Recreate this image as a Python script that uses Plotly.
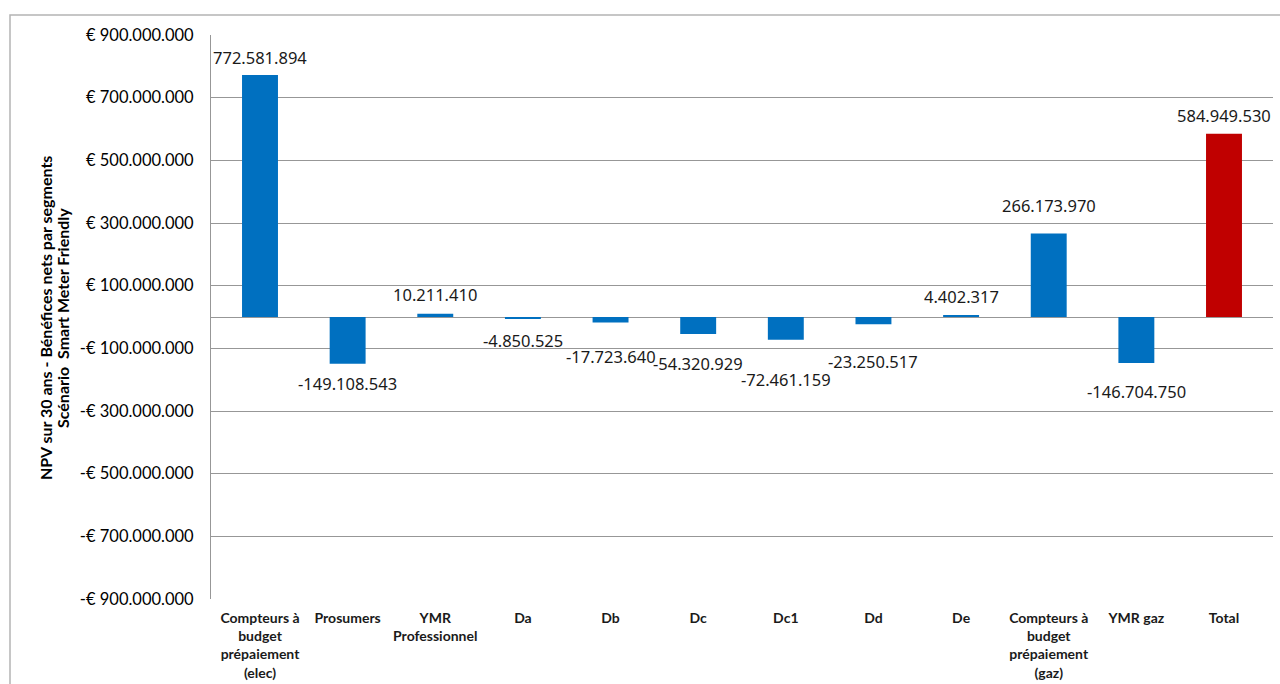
import plotly.graph_objects as go

# Net present value over 30 years, per segment (EUR)
categories = ["Compteurs à budget prépaiement (elec)", "Prosumers", "YMR Professionnel",
              "Da", "Db", "Dc", "Dc1", "Dd", "De",
              "Compteurs à budget prépaiement (gaz)", "YMR gaz", "Total"]
category_labels = ["Compteurs à<br>budget<br>prépaiement<br>(elec)", "Prosumers",
                   "YMR<br>Professionnel", "Da", "Db", "Dc", "Dc1", "Dd", "De",
                   "Compteurs à<br>budget<br>prépaiement<br>(gaz)", "YMR gaz", "Total"]
npv_values = [772581894, -149108543, 10211410, -4850525, -17723640, -54320929,
              -72461159, -23250517, 4402317, 266173970, -146704750, 584949530]
tick_values = [-900000000, -700000000, -500000000, -300000000, -100000000,
               100000000, 300000000, 500000000, 700000000, 900000000]
title_lines = ["NPV sur 30 ans - Bénéfices nets par segments",
               "Scénario  Smart Meter Friendly"]

# vertical offset (px) of each value label from its bar end
label_shift = [17.5, -20, 19, -21.5, -33.5, -29, -40, -37.5, 19.5, 28.6, -28.7, 18.7]

BLUE = "#0070C0"
RED = "#C00000"
GRID = "#979797"


def dotted(n):
    return f"{n:,}".replace(",", ".")


def euro(n):
    return ("-€ " if n < 0 else "€ ") + dotted(abs(n))


bar_colors = [RED if c == "Total" else BLUE for c in categories]

fig = go.Figure()
fig.add_trace(go.Bar(
    x=categories, y=npv_values,
    marker=dict(color=bar_colors, line=dict(width=0)),
    hoverinfo="x+y",
))

for cat, val, dy in zip(categories, npv_values, label_shift):
    fig.add_annotation(
        x=cat, y=val, xref="x", yref="y",
        text=dotted(val), showarrow=False,
        xanchor="center", yanchor="middle", yshift=dy,
        font=dict(family="Noto Sans", size=16.5, color="#1a1a1a"),
    )

# vertical axis title, one rotated annotation per line
for line_text, px in zip(title_lines, [45, 62]):
    fig.add_annotation(
        xref="paper", yref="paper", x=(px - 211) / 1062, y=(599 - 318) / 564,
        text=f"<b>{line_text}</b>",
        showarrow=False, textangle=-90, xanchor="center", yanchor="middle",
        font=dict(family="Lato", size=16, color="#000000"),
    )

# outer chart frame
fig.add_shape(
    type="rect", xref="paper", yref="paper",
    x0=(10 - 211) / 1062, x1=(1290 - 211) / 1062,
    y0=(599 - 700) / 564, y1=(599 - 15) / 564,
    line=dict(color="#b4b4b4", width=1.5), fillcolor="rgba(0,0,0,0)", layer="below",
)

fig.update_layout(
    width=1280, height=684,
    margin=dict(l=211, r=7, t=35, b=85, autoexpand=False),
    paper_bgcolor="white", plot_bgcolor="white",
    bargap=0.59, showlegend=False,
    font=dict(family="Lato", color="#000000"),
)
fig.update_xaxes(
    type="category", automargin=False,
    tickmode="array", tickvals=categories, ticktext=category_labels,
    tickfont=dict(family="Lato", size=14, color="#1a1a1a", weight="bold"),
    showgrid=False, showline=False, ticks="", zeroline=False,
    ticklabelstandoff=9,
)
fig.update_yaxes(
    range=[-900000000, 900000000], automargin=False,
    tickmode="array", tickvals=tick_values, ticktext=[euro(v) for v in tick_values],
    tickfont=dict(family="Lato", size=16.5, color="#000000"),
    showgrid=True, gridcolor=GRID, gridwidth=1,
    zeroline=True, zerolinecolor=GRID, zerolinewidth=1,
    showline=True, linecolor=GRID, linewidth=1,
    ticks="", ticklabelstandoff=13,
)

fig.write_html("out.html")
